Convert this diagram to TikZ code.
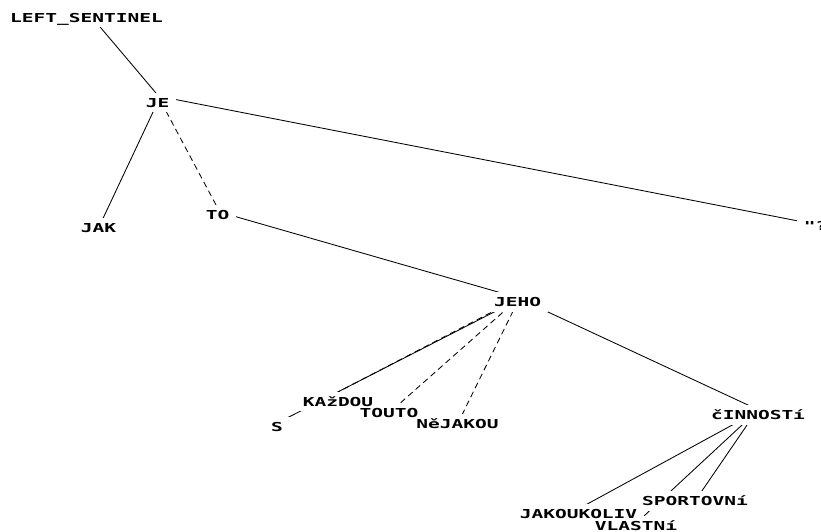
\documentclass[tikz,border=0pt]{standalone}
\usepackage{fontspec}
\newfontfamily\pixfont[FakeStretch=1.58]{DejaVu Sans Mono}
\usetikzlibrary{calc}
\pgfdeclarelayer{lines}
\pgfdeclarelayer{mask}
\pgfsetlayers{lines,mask,main}
\tikzset{
  word/.style={font=\pixfont\bfseries\fontsize{12.35}{14}\selectfont,
    text height=9pt, text depth=0pt, inner xsep=7pt, inner ysep=5pt, anchor=center},
  link/.style={line width=0.85pt, black},
  dlink/.style={link, dash pattern=on 6pt off 4pt},
}
\begin{document}
\begin{tikzpicture}[x=1pt,y=-1pt]
\useasboundingbox (0,0) rectangle (821,531);
\node[word] (ls) at (86.5,17.5) {LEFT\_SENTINEL};
\node[word] (je) at (157.5,102.5) {JE};
\node[word] (jak) at (98.5,228) {JAK};
\node[word] (to) at (217.5,215) {TO};
\node[word] (q) at (815.7,226) {"?};
\node[word] (jeho) at (517.5,302) {JEHO};
\node[word] (kazdou) at (338,401.5) {KAžDOU};
\node[word] (s) at (277,426.5) {S};
\node[word] (touto) at (389,413) {TOUTO};
\node[word] (nejakou) at (457.5,424) {NěJAKOU};
\node[word] (cinnosti) at (758,415) {čINNOSTí};
\node[word] (sportovni) at (695,501) {SPORTOVNí};
\node[word] (jakoukoliv) at (578.5,514) {JAKOUKOLIV};
\node[word] (vlastni) at (636,526) {VLASTNí};
\begin{pgfonlayer}{mask}
\foreach \n in {ls,je,jak,to,q,jeho,kazdou,s,touto,nejakou,cinnosti,sportovni,jakoukoliv,vlastni}
  \fill[white] (\n.south west) rectangle (\n.north east);
\end{pgfonlayer}
\begin{pgfonlayer}{lines}
\draw[link] ($(ls.center)+(5.6,0)$) -- ($(je.center)+(6.5,0)$);
\draw[link] (je.center) -- (jak.center);
\draw[dlink] ($(je.center)+(3.9,0)$) -- ($(to.center)+(3.9,0)$);
\draw[link] ($(je.center)+(0,-6.5)$) -- ($(q.center)+(0,-1.6)$);
\draw[link] ($(to.center)+(0,-3.6)$) -- ($(jeho.center)+(0,-4.4)$);
\draw[link] ($(jeho.center)+(0,-2)$) -- ($(s.center)+(0,-3.4)$);
\draw[dlink] ($(jeho.center)+(0,-3.3)$) -- ($(kazdou.center)+(-18.3,0)$);
\draw[dlink] ($(jeho.center)+(0,-2.7)$) -- (touto.center);
\draw[dlink] (jeho.center) -- (nejakou.center);
\draw[link] ($(jeho.center)+(0,-4.2)$) -- ($(cinnosti.center)+(0,-5.3)$);
\draw[link] ($(cinnosti.center)+(0,-4)$) -- ($(jakoukoliv.center)+(0,-5.2)$);
\draw[link] ($(cinnosti.center)+(-5.2,0)$) -- ($(vlastni.center)+(-2.8,0)$);
\draw[link] ($(cinnosti.center)+(-4.1,0)$) -- (sportovni.center);
\end{pgfonlayer}
\end{tikzpicture}
\end{document}
